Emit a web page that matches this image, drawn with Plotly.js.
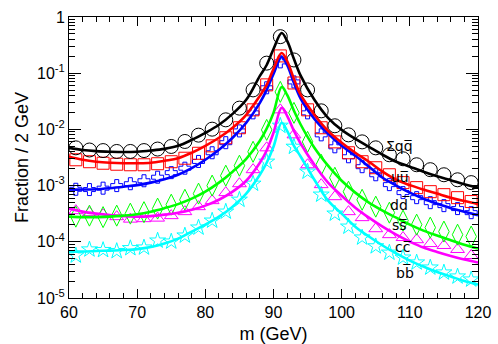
<!DOCTYPE html>
<html>
<head>
<meta charset="utf-8">
<script src="https://cdn.plot.ly/plotly-3.0.1.min.js"></script>
<style>
  html, body { margin: 0; padding: 0; background: #fff; }
  #chart { width: 498px; height: 344px; }
</style>
</head>
<body>
<div id="chart"></div>
<script>
// bin centres of the 2 GeV histograms
const massPoints = [61, 63, 65, 67, 69, 71, 73, 75, 77, 79, 81, 83, 85, 87, 89,
                    91, 93, 95, 97, 99, 101, 103, 105, 107, 109, 111, 113, 115, 117, 119];
// points along the fitted curves
const massCurve = [60, 62, 64, 66, 68, 70, 72, 74, 76, 78, 80, 82, 84, 86, 88,
                   89, 90, 91.2, 92, 93, 94,
                   96, 98, 100, 102, 104, 106, 108, 110, 112, 114, 116, 118, 120];

// sum over all q qbar
const sumPts = [4.7e-3, 4.3e-3, 4.2e-3, 4.05e-3, 4.05e-3, 4.2e-3, 4.47e-3, 4.97e-3, 6.1e-3, 7.9e-3,
                1.01e-2, 1.48e-2, 2.39e-2, 5.05e-2, 0.151, 0.447, 0.172, 5.05e-2, 2.14e-2, 1.16e-2,
                8.0e-3, 6.0e-3, 4.7e-3, 3.54e-3, 3.0e-3, 2.35e-3, 1.92e-3, 1.56e-3, 1.27e-3, 1.13e-3];
const sumFit = [4.7e-3, 4.3e-3, 4.1e-3, 4.0e-3, 3.95e-3, 4.0e-3, 4.2e-3, 4.5e-3, 5.1e-3, 6.5e-3,
                8.7e-3, 1.21e-2, 1.89e-2, 3.36e-2, 8.95e-2,
                0.140, 0.270, 0.52, 0.375, 0.179, 8.95e-2,
                3.36e-2, 1.61e-2, 9.8e-3, 6.8e-3, 4.9e-3, 3.54e-3, 2.66e-3, 2.17e-3, 1.77e-3,
                1.47e-3, 1.25e-3, 1.06e-3, 9.2e-4];

// u ubar
const uuPts = [2.88e-3, 2.66e-3, 2.50e-3, 2.40e-3, 2.35e-3, 2.35e-3, 2.45e-3, 2.66e-3, 3.07e-3, 3.76e-3,
               5.1e-3, 7.1e-3, 1.07e-2, 2.23e-2, 6.2e-2, 0.203, 6.7e-2, 2.23e-2, 1.07e-2, 6.0e-3,
               3.84e-3, 2.66e-3, 2.08e-3, 1.56e-3, 1.13e-3, 9.2e-4, 7.8e-4, 6.9e-4, 6.1e-4, 5.2e-4];
const uuFit = [3.26e-3, 2.88e-3, 2.66e-3, 2.55e-3, 2.50e-3, 2.50e-3, 2.55e-3, 2.77e-3, 3.07e-3, 3.84e-3,
               5.1e-3, 7.1e-3, 1.07e-2, 1.82e-2, 3.95e-2,
               6.2e-2, 0.119, 0.229, 0.165, 7.9e-2, 4.1e-2,
               1.82e-2, 9.4e-3, 5.8e-3, 3.84e-3, 2.66e-3, 1.77e-3, 1.27e-3, 1.02e-3, 8.5e-4,
               7.2e-4, 6.1e-4, 5.3e-4, 4.68e-4];

// d dbar
const ddPts = [8.6e-4, 8.5e-4, 9.0e-4, 1.0e-3, 1.08e-3, 1.22e-3, 1.41e-3, 1.70e-3, 2.04e-3, 2.69e-3,
               3.84e-3, 5.8e-3, 9.4e-3, 1.97e-2, 5.5e-2, 0.159, 7.0e-2, 1.97e-2, 8.0e-3, 4.9e-3,
               3.26e-3, 2.17e-3, 1.56e-3, 1.04e-3, 7.5e-4, 6.1e-4, 4.97e-4, 4.4e-4, 3.9e-4, 3.3e-4];
const ddFit = [8.5e-4, 8.5e-4, 8.6e-4, 9.0e-4, 9.55e-4, 1.02e-3, 1.13e-3, 1.30e-3, 1.56e-3, 2.04e-3,
               2.88e-3, 4.34e-3, 7.1e-3, 1.31e-2, 2.97e-2,
               5.05e-2, 9.7e-2, 0.195, 0.14, 6.7e-2, 3.5e-2,
               1.54e-2, 8.4e-3, 5.1e-3, 3.4e-3, 2.17e-3, 1.38e-3, 1.0e-3, 7.5e-4, 5.85e-4,
               4.77e-4, 3.97e-4, 3.44e-4, 2.98e-4];

// s sbar
const ssPts = [2.8e-4, 2.92e-4, 2.75e-4, 2.92e-4, 3.17e-4, 3.37e-4, 3.9e-4, 4.58e-4, 5.6e-4, 7.2e-4,
               1.0e-3, 1.50e-3, 2.26e-3, 4.0e-3, 9.8e-3, 4.65e-2, 1.97e-2, 6.0e-3, 2.35e-3, 1.38e-3,
               7.8e-4, 5.6e-4, 4.22e-4, 3.3e-4, 2.38e-4, 2.02e-4, 1.79e-4, 1.52e-4, 1.34e-4, 1.24e-4];
const ssFit = [2.8e-4, 2.75e-4, 2.75e-4, 2.8e-4, 2.92e-4, 3.1e-4, 3.44e-4, 3.97e-4, 4.68e-4, 5.85e-4,
               7.8e-4, 1.13e-3, 1.77e-3, 3.0e-3, 6.3e-3,
               1.03e-2, 1.97e-2, 5.7e-2, 4.1e-2, 2.14e-2, 1.21e-2,
               4.7e-3, 2.26e-3, 1.22e-3, 7.5e-4, 4.97e-4, 3.58e-4, 2.69e-4, 2.02e-4, 1.58e-4,
               1.29e-4, 1.07e-4, 8.9e-5, 7.6e-5];

// c cbar
const ccPts = [3.58e-4, 3.3e-4, 3.04e-4, 2.8e-4, 2.53e-4, 2.58e-4, 2.64e-4, 2.92e-4, 3.44e-4, 4.22e-4,
               5.4e-4, 7.5e-4, 1.08e-3, 1.92e-3, 4.7e-3, 2.23e-2, 8.0e-3, 2.35e-3, 1.04e-3, 6.35e-4,
               3.44e-4, 2.69e-4, 1.71e-4, 1.34e-4, 1.19e-4, 1.09e-4, 9.3e-5, 8.6e-5, 7.3e-5, 5.7e-5];
const ccFit = [3.9e-4, 3.44e-4, 3.17e-4, 2.98e-4, 2.86e-4, 2.8e-4, 2.86e-4, 3.04e-4, 3.3e-4, 3.73e-4,
               4.4e-4, 5.6e-4, 7.8e-4, 1.22e-3, 2.55e-3,
               4.2e-3, 8.7e-3, 2.42e-2, 1.74e-2, 9.4e-3, 5.55e-3,
               2.35e-3, 1.13e-3, 6.6e-4, 4.05e-4, 2.69e-4, 1.86e-4, 1.34e-4, 1.01e-4, 7.9e-5,
               6.6e-5, 5.6e-5, 4.83e-5, 4.28e-5];

// b bbar
const bbPts = [5.7e-5, 7.3e-5, 7.13e-5, 6.84e-5, 7.7e-5, 7.9e-5, 1.05e-4, 1.01e-4, 1.29e-4, 1.79e-4,
               2.38e-4, 3.44e-4, 5.6e-4, 1.08e-3, 2.66e-3, 1.16e-2, 4.9e-3, 1.77e-3, 6.9e-4, 3.17e-4,
               1.86e-4, 1.19e-4, 8.3e-5, 6.4e-5, 5.24e-5, 4.28e-5, 3.48e-5, 2.84e-5, 2.41e-5, 2.13e-5];
const bbFit = [6.7e-5, 6.7e-5, 6.84e-5, 6.98e-5, 7.13e-5, 7.4e-5, 8.05e-5, 9.3e-5, 1.14e-4, 1.52e-4,
               2.02e-4, 2.8e-4, 4.22e-4, 7.2e-4, 1.56e-3,
               2.55e-3, 4.9e-3, 1.31e-2, 9.4e-3, 5.1e-3, 3.26e-3,
               1.27e-3, 5.4e-4, 3.17e-4, 1.86e-4, 1.24e-4, 8.6e-5, 6.2e-5, 4.63e-5, 3.63e-5,
               2.9e-5, 2.41e-5, 2.0e-5, 1.74e-5];

const yTickVals = [1e-5, 1e-4, 1e-3, 1e-2, 1e-1, 1];
const yTickText = ['10<sup>-5</sup>', '10<sup>-4</sup>', '10<sup>-3</sup>', '10<sup>-2</sup>', '10<sup>-1</sup>', '1'];

// antiquark gets a combining overline
const bar = s => s + '\u0305';

// drawn from the bottom up so the black curve ends on top
const series = [
    { pts: bbPts,  fit: bbFit,  color: '#00ffff', symbol: 'star-open',         size: 12, label: 'b' + bar('b'), ax: 405, ay: 272 },
    { pts: ccPts,  fit: ccFit,  color: '#ff00ff', symbol: 'triangle-up-open',  size: 12, label: 'c' + bar('c'), ax: 403, ay: 247 },
    { pts: ssPts,  fit: ssFit,  color: '#00ff00', symbol: 'diamond-tall-open', size: 15, label: 's' + bar('s'), ax: 400, ay: 225 },
    { pts: ddPts,  fit: ddFit,  color: '#0000ff', symbol: 'cross-open',        size: 10, label: 'd' + bar('d'), ax: 400, ay: 204 },
    { pts: uuPts,  fit: uuFit,  color: '#ff0000', symbol: 'square-open',       size: 12, label: 'u' + bar('u'), ax: 400, ay: 177 },
    { pts: sumPts, fit: sumFit, color: '#000000', symbol: 'circle-open',       size: 14, label: '\u03a3q' + bar('q'), ax: 399, ay: 146 },
];

const margin = { l: 69, r: 20, t: 17, b: 46 };
const plotW = 498 - margin.l - margin.r;
const plotH = 344 - margin.t - margin.b;

const traces = [];
series.forEach(s => {
    traces.push({
        x: massPoints, y: s.pts,
        type: 'scatter', mode: 'markers',
        marker: { symbol: s.symbol, size: s.size, color: s.color, line: { width: 1, color: s.color } },
        hoverinfo: 'skip', showlegend: false
    });
});
series.forEach(s => {
    traces.push({
        x: massCurve, y: s.fit,
        type: 'scatter', mode: 'lines',
        line: { color: s.color, width: 2.6, shape: 'spline', smoothing: 1 },
        hoverinfo: 'skip', showlegend: false
    });
});

// minor ticks between decades on the log axis
const yMinor = [];
for (let e = -5; e < 0; e++) {
    for (let k = 2; k <= 9; k++) yMinor.push(k * Math.pow(10, e));
}

const annotations = series.map(s => ({
    text: s.label,
    xref: 'paper', yref: 'paper',
    x: (s.ax - margin.l) / plotW,
    y: (344 - margin.b - s.ay) / plotH,
    xanchor: 'center', yanchor: 'middle',
    showarrow: false,
    font: { family: 'DejaVu Sans, Liberation Sans, sans-serif', size: 14, color: '#000' }
}));

const layout = {
    width: 498, height: 344,
    margin: margin,
    paper_bgcolor: '#fff', plot_bgcolor: '#fff',
    font: { family: 'Liberation Sans, Arial, sans-serif', size: 15, color: '#000' },
    xaxis: {
        range: [60, 120],
        dtick: 10, tick0: 60,
        ticks: 'inside', ticklen: 9, tickwidth: 1, tickcolor: '#000',
        minor: { dtick: 2, tick0: 60, ticks: 'inside', ticklen: 5, tickwidth: 1, tickcolor: '#000', showgrid: false },
        showline: true, linecolor: '#000', linewidth: 1, mirror: 'ticks',
        showgrid: false, zeroline: false,
        tickfont: { size: 16 },
        title: { text: 'm (GeV)', font: { size: 18 }, standoff: 11 }
    },
    yaxis: {
        type: 'log',
        range: [-5, 0],
        tickmode: 'array', tickvals: yTickVals, ticktext: yTickText,
        ticks: 'inside', ticklen: 12, tickwidth: 1, tickcolor: '#000',
        minor: { tickmode: 'array', tickvals: yMinor, ticks: 'inside', ticklen: 6, tickwidth: 1, tickcolor: '#000', showgrid: false },
        showline: true, linecolor: '#000', linewidth: 1, mirror: 'ticks',
        showgrid: false, zeroline: false,
        tickfont: { size: 16 },
        title: { text: 'Fraction / 2 GeV', font: { size: 18 }, standoff: 3 }
    },
    annotations: annotations
};

Plotly.newPlot('chart', traces, layout, { displayModeBar: false, staticPlot: true });
</script>
</body>
</html>
